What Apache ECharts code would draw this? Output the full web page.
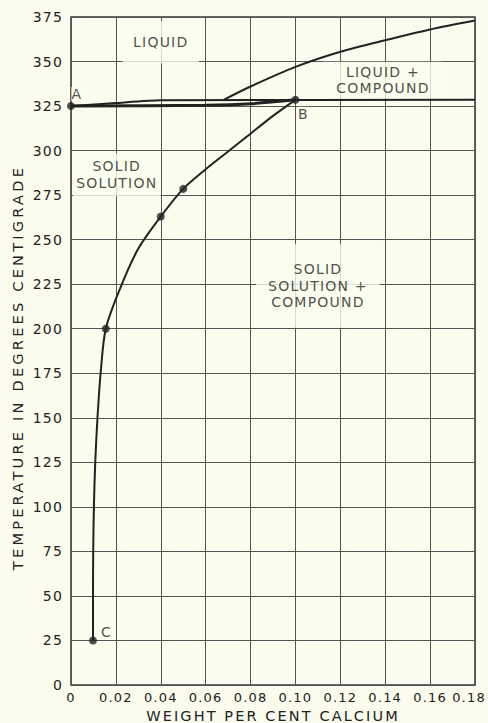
<!DOCTYPE html>
<html>
<head>
<meta charset="utf-8">
<script src="https://cdn.jsdelivr.net/npm/echarts@6/dist/echarts.min.js"></script>
<style>
  html, body { margin: 0; padding: 0; background: #fbfcee; }
  #chart { width: 488px; height: 723px; }
  #chart svg text { letter-spacing: 1.2px; }
  #chart svg text[style*="14.5px"] { letter-spacing: 2.1px; }
  #chart svg text[style*="14.6px"] { letter-spacing: 3.2px; }
</style>
</head>
<body>
<div id="chart"></div>
<script>
// ---- data ----
const xTickLabels = ['0', '0.02', '0.04', '0.06', '0.08', '0.10', '0.12', '0.14', '0.16', '0.18'];
const yTickLabels = ['0', '25', '50', '75', '100', '125', '150', '175', '200', '225', '250', '275', '300', '325', '350', '375'];

// solid-solubility curve C -> B
const solvusX = [0.0098, 0.0098, 0.0099, 0.0102, 0.0108, 0.0118, 0.0132, 0.0155, 0.0220, 0.0300, 0.0400, 0.0500, 0.0600, 0.0700, 0.0800, 0.0900, 0.1000];
const solvusY = [25, 50, 75, 100, 125, 150, 175, 200, 223, 245, 263, 278.5, 289.5, 299.5, 309.5, 319.5, 328.5];

// liquidus curve
const liquidusX = [0.068, 0.080, 0.100, 0.120, 0.140, 0.160, 0.180];
const liquidusY = [328.5, 336, 347, 355.5, 362, 368, 373];

// horizontal (peritectic) line from A
const horizX = [0, 0.02, 0.04, 0.18];
const horizY = [325, 326.7, 328.2, 328.5];

// heavy solidus line A -> B
const solidusX = [0, 0.06, 0.08, 0.10];
const solidusY = [325, 325.5, 326.3, 328.5];

// measured points
const dotX = [0, 0.0098, 0.0155, 0.040, 0.050, 0.100];
const dotY = [325, 25, 200, 263, 278.5, 328.5];
const dotNames = ['A', 'C', '', '', '', 'B'];

// region labels
const regionNames = ['LIQUID', 'LIQUID +\nCOMPOUND', 'SOLID\nSOLUTION', 'SOLID\nSOLUTION +\nCOMPOUND'];
const regionX = [0.040, 0.139, 0.0204, 0.110];
const regionY = [361, 339.5, 286.5, 224];

const pair = (xs, ys) => xs.map((x, i) => [x, ys[i]]);

const BG = '#fbfcee';
const INK = '#222';
const FONT = 'DejaVu Sans';
const regionPad = [[13, 14], [2, 18], [5, 8], [17, 18]];

const chart = echarts.init(document.getElementById('chart'), null, { renderer: 'svg' });

const labelPos = { A: 'top', B: 'bottom', C: 'right' };
const labelOffset = { A: [6, 2], B: [8, 0], C: [0, -8] };

chart.setOption({
  backgroundColor: BG,
  animation: false,
  grid: {
    left: 71, right: 13, top: 17, bottom: 38,
    containLabel: false, outerBoundsMode: 'none',
    show: true, borderColor: '#333', borderWidth: 1.5, backgroundColor: 'transparent'
  },
  xAxis: {
    type: 'value', min: 0, max: 0.18, interval: 0.02,
    name: 'WEIGHT PER CENT CALCIUM', nameLocation: 'middle', nameGap: 17.5,
    nameTextStyle: { fontFamily: FONT, fontSize: 14.5, color: INK },
    axisLine: { show: false }, axisTick: { show: false },
    splitLine: { show: true, lineStyle: { color: '#555', width: 1 } },
    axisLabel: {
      margin: 6, fontFamily: FONT, fontSize: 13, color: INK,
      formatter: (v, i) => i === xTickLabels.length - 1 ? '{e|' + xTickLabels[i] + '}' : xTickLabels[i],
      rich: { e: { fontFamily: FONT, fontSize: 13, color: INK, padding: [0, 12, 0, 0] } }
    }
  },
  yAxis: {
    type: 'value', min: 0, max: 375, interval: 25,
    name: 'TEMPERATURE IN DEGREES CENTIGRADE', nameLocation: 'middle', nameGap: 46.5,
    nameTextStyle: { fontFamily: FONT, fontSize: 14.6, color: INK, padding: [0, 33, 0, 0] },
    axisLine: { show: false }, axisTick: { show: false },
    splitLine: { show: true, lineStyle: { color: '#555', width: 1 } },
    axisLabel: {
      margin: 8, fontFamily: FONT, fontSize: 14, color: INK,
      formatter: (v, i) => yTickLabels[i]
    }
  },
  series: [
    {
      type: 'scatter', z: 1, symbolSize: 0, silent: true,
      data: regionNames.map((n, i) => ({
        value: [regionX[i], regionY[i]], name: n,
        label: { padding: regionPad[i] }
      })),
      label: {
        show: true, position: 'inside', formatter: p => p.name,
        fontFamily: FONT, fontSize: 14, color: INK, lineHeight: 16.5,
        backgroundColor: BG
      }
    },
    {
      type: 'line', z: 3, data: pair(solvusX, solvusY), smooth: 0.3,
      showSymbol: false, lineStyle: { color: INK, width: 2 }
    },
    {
      type: 'line', z: 3, data: pair(liquidusX, liquidusY), smooth: 0.3,
      showSymbol: false, lineStyle: { color: INK, width: 2 }
    },
    {
      type: 'line', z: 3, data: pair(horizX, horizY), smooth: 0.2,
      showSymbol: false, lineStyle: { color: INK, width: 2 }
    },
    {
      type: 'line', z: 3, data: pair(solidusX, solidusY), smooth: 0.3,
      showSymbol: false, lineStyle: { color: INK, width: 3 }
    },
    {
      type: 'scatter', z: 4, symbolSize: 8, itemStyle: { color: INK },
      data: dotX.map((x, i) => ({
        value: [x, dotY[i]], name: dotNames[i],
        label: dotNames[i] ? {
          show: true, formatter: dotNames[i], position: labelPos[dotNames[i]],
          offset: labelOffset[dotNames[i]], distance: 3,
          fontFamily: FONT, fontSize: 14, color: INK,
          backgroundColor: BG, padding: [0, 1]
        } : { show: false }
      }))
    }
  ]
});
</script>
</body>
</html>
